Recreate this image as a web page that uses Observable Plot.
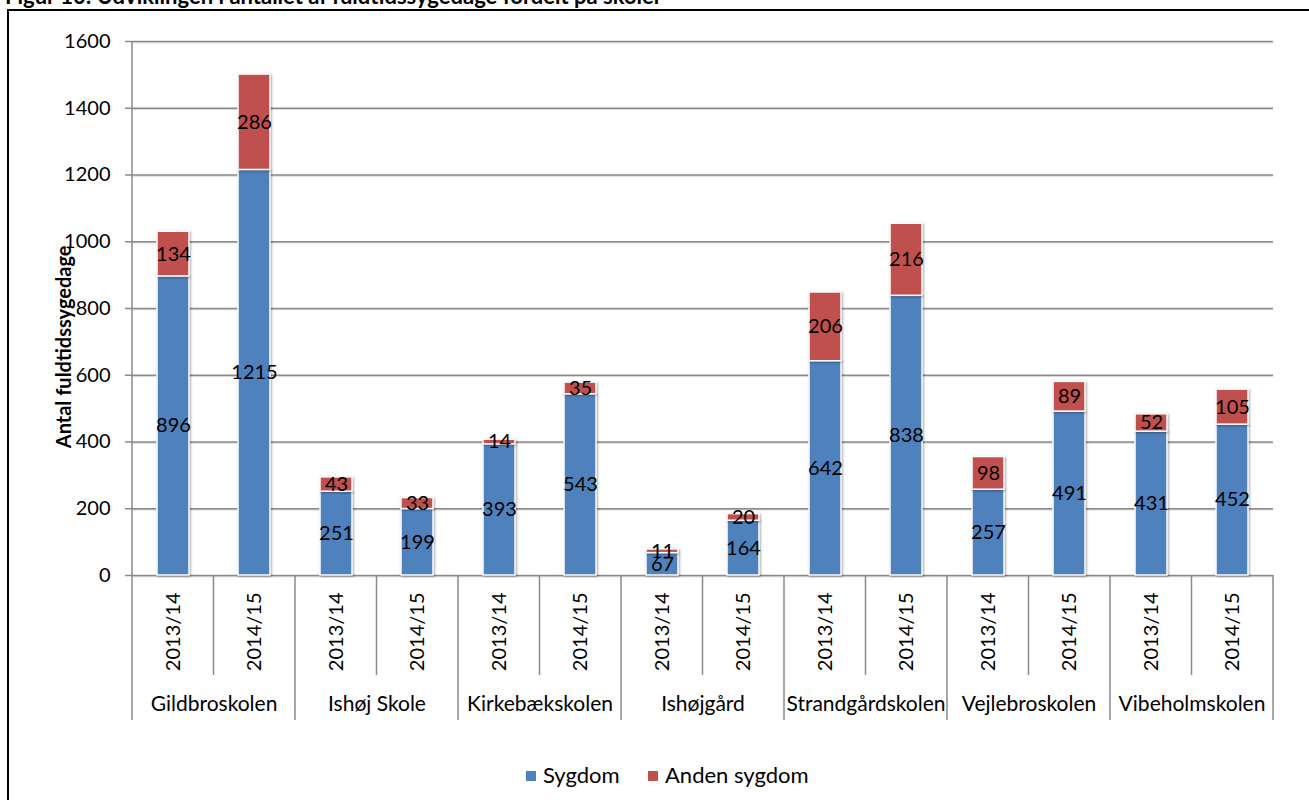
<!DOCTYPE html>
<html>
<head>
<meta charset="utf-8">
<script src="https://cdn.jsdelivr.net/npm/d3@7"></script>
<script src="https://cdn.jsdelivr.net/npm/@observablehq/plot@0.6"></script>
<style>
  html, body { margin: 0; padding: 0; background: #fff; overflow: hidden; }
  #wrap { position: relative; width: 1309px; height: 800px; font-family: Lato, "Open Sans", sans-serif; color: #000; }
  #border { position: absolute; left: 7px; top: 9px; width: 1400px; height: 900px; border: 2px solid #000; box-sizing: border-box; }
  #title { position: absolute; left: 5px; top: -15px; font-size: 22px; line-height: 22px; font-weight: bold; white-space: nowrap; }
  #chart { position: absolute; left: 0; top: 0; }
  #legend { position: absolute; left: 0; top: 762px; width: 1309px; height: 28px; font-size: 22px; line-height: 26px; white-space: nowrap; }
  #legend .item { position: absolute; top: 0; }
  #legend span.sw { display: inline-block; width: 10px; height: 10px; margin-right: 7px; vertical-align: 2px; }
  g[aria-label="bar"] rect { filter: drop-shadow(1.5px 1.5px 1.2px rgba(0,0,0,0.35)); }
  g[aria-label="y-grid"] line { filter: drop-shadow(0px 1.5px 0.6px rgba(0,0,0,0.15)); }
</style>
</head>
<body>
<div id="wrap">
  <div id="border"></div>
  <div id="title">Figur 10: Udviklingen i antallet af fuldtidssygedage fordelt på skoler</div>
  <div id="chart"></div>
  <div id="legend"></div>
</div>
<script>
const schools = ["Gildbroskolen", "Ishøj Skole", "Kirkebækskolen", "Ishøjgård", "Strandgårdskolen", "Vejlebroskolen", "Vibeholmskolen"];
const years = ["2013/14", "2014/15"];
// values per school, in order 2013/14, 2014/15
const sygdom = [896, 1215, 251, 199, 393, 543, 67, 164, 642, 838, 257, 491, 431, 452];
const andenSygdom = [134, 286, 43, 33, 14, 35, 11, 20, 206, 216, 98, 89, 52, 105];
const seriesNames = ["Sygdom", "Anden sygdom"];
const seriesColors = ["#4F81BD", "#C0504D"];
const yTicks = [0, 200, 400, 600, 800, 1000, 1200, 1400, 1600];
const yLabel = "Antal fuldtidssygedage";

const rows = [];
[sygdom, andenSygdom].forEach((vals, si) => {
  schools.forEach((s, i) => {
    years.forEach((yr, j) => {
      rows.push({school: s, year: yr, series: seriesNames[si], value: vals[i * years.length + j]});
    });
  });
});

const gridColor = "#8a8a8a";
const plot = Plot.plot({
  width: 1309,
  height: 740,
  marginLeft: 131,
  marginRight: 36,
  marginTop: 41,
  marginBottom: 165,
  style: {fontFamily: "Lato, 'Open Sans', sans-serif", fontSize: "20px", color: "#000", background: "transparent", overflow: "visible"},
  fx: {domain: schools, padding: 0, axis: null, label: null},
  x: {domain: years, paddingInner: 0.6, paddingOuter: 0.3, axis: null, label: null},
  y: {domain: [0, 1600], axis: null, label: null},
  color: {domain: seriesNames, range: seriesColors},
  marks: [
    Plot.gridY(yTicks, {stroke: gridColor, strokeOpacity: 1, strokeWidth: 1.5}),
    Plot.barY(rows, {fx: "school", x: "year", y: "value", fill: "series", stroke: "#fff", strokeWidth: 1.5}),
    Plot.text(rows, Plot.stackY({fx: "school", x: "year", y: "value", z: "series", text: d => String(d.value), fill: "#000", fontSize: 20})),
    Plot.axisY({ticks: yTicks, tickFormat: d3.format("d"), tickSize: 7, tickPadding: 15, stroke: gridColor, strokeWidth: 1.5, fill: "#000", label: null, fontSize: 20}),
    Plot.axisX({tickRotate: -90, tickSize: 0, tickPadding: 17, label: null, fontSize: 20, fill: "#000"}),
    Plot.axisFx({anchor: "bottom", tickSize: 0, tickPadding: 121, label: null, fontSize: 21, fill: "#000"}),
    Plot.text([yLabel], {fx: [schools[0]], text: d => d, frameAnchor: "top-left", textAnchor: "end", rotate: -90, dx: -76, dy: 204, fontWeight: "bold", fontSize: 20, fill: "#000"})
  ]
});

// category separators of the two-level x axis, positioned through the plot's scales
const fxs = plot.scale("fx");
const ys = plot.scale("y");
const bw = fxs.bandwidth;
const yBase = ys.apply(0);
const yTop = ys.apply(1600);
const g = d3.select(plot).append("g").attr("stroke", gridColor).attr("stroke-width", 1.5);
const line = (x, y1, y2) => g.append("line").attr("x1", x).attr("x2", x).attr("y1", y1).attr("y2", y2);
line(fxs.apply(schools[0]), yTop, yBase + 145);
schools.forEach((s, i) => {
  const x0 = fxs.apply(s);
  if (i > 0) line(x0, yBase, yBase + 145);
  line(x0 + bw / 2, yBase, yBase + 100);
});
line(fxs.apply(schools[schools.length - 1]) + bw, yBase, yBase + 145);

document.getElementById("chart").appendChild(plot);

// legend
const legendLeft = [526, 648];
const legend = d3.select("#legend");
seriesNames.forEach((n, i) => {
  const item = legend.append("span").attr("class", "item").style("left", legendLeft[i] + "px");
  item.append("span").attr("class", "sw").style("background", seriesColors[i]);
  item.append("span").text(n);
});
</script>
</body>
</html>
